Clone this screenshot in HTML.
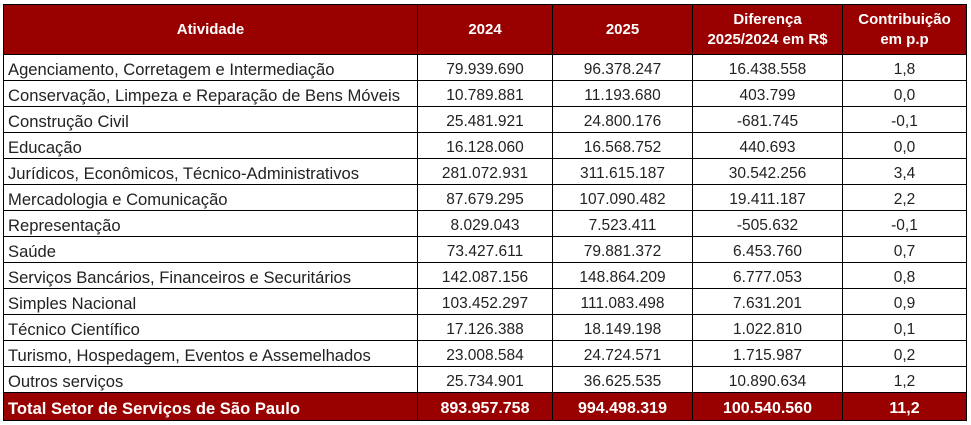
<!DOCTYPE html>
<html><head><meta charset="utf-8"><style>
html,body{margin:0;padding:0;background:#fff;width:971px;height:425px;overflow:hidden}
table{position:absolute;left:3px;top:4px;border-collapse:collapse;font-family:"Liberation Sans",sans-serif;table-layout:fixed}
td,th{border:1px solid #000;padding:0;font-size:15.5px;color:#222;text-align:center;height:25px;line-height:25px;white-space:nowrap;overflow:hidden}
td span{position:relative;top:2px}
td.l{text-align:left;padding-left:4px;font-size:16.6px}
th{background:#990000;color:#fff;font-weight:bold;font-size:15px;line-height:20px;height:49px;vertical-align:middle}
tr.t td{background:#990000;color:#fff;font-weight:bold;height:27px;line-height:27px;font-size:16px}
tr.t td.l{font-size:16.6px}
</style></head><body>
<table>
<colgroup><col style="width:414px"><col style="width:135px"><col style="width:140px"><col style="width:150px"><col style="width:124px"></colgroup>
<tr><th>Atividade</th><th>2024</th><th>2025</th><th>Diferença<br>2025/2024 em R$</th><th>Contribuição<br>em p.p</th></tr>
<tr><td class="l"><span>Agenciamento, Corretagem e Intermediação</span></td><td><span>79.939.690</span></td><td><span>96.378.247</span></td><td><span>16.438.558</span></td><td><span>1,8</span></td></tr>
<tr><td class="l"><span>Conservação, Limpeza e Reparação de Bens Móveis</span></td><td><span>10.789.881</span></td><td><span>11.193.680</span></td><td><span>403.799</span></td><td><span>0,0</span></td></tr>
<tr><td class="l"><span>Construção Civil</span></td><td><span>25.481.921</span></td><td><span>24.800.176</span></td><td><span>-681.745</span></td><td><span>-0,1</span></td></tr>
<tr><td class="l"><span>Educação</span></td><td><span>16.128.060</span></td><td><span>16.568.752</span></td><td><span>440.693</span></td><td><span>0,0</span></td></tr>
<tr><td class="l"><span>Jurídicos, Econômicos, Técnico-Administrativos</span></td><td><span>281.072.931</span></td><td><span>311.615.187</span></td><td><span>30.542.256</span></td><td><span>3,4</span></td></tr>
<tr><td class="l"><span>Mercadologia  e Comunicação</span></td><td><span>87.679.295</span></td><td><span>107.090.482</span></td><td><span>19.411.187</span></td><td><span>2,2</span></td></tr>
<tr><td class="l"><span>Representação</span></td><td><span>8.029.043</span></td><td><span>7.523.411</span></td><td><span>-505.632</span></td><td><span>-0,1</span></td></tr>
<tr><td class="l"><span>Saúde</span></td><td><span>73.427.611</span></td><td><span>79.881.372</span></td><td><span>6.453.760</span></td><td><span>0,7</span></td></tr>
<tr><td class="l"><span>Serviços Bancários, Financeiros e Securitários</span></td><td><span>142.087.156</span></td><td><span>148.864.209</span></td><td><span>6.777.053</span></td><td><span>0,8</span></td></tr>
<tr><td class="l"><span>Simples Nacional</span></td><td><span>103.452.297</span></td><td><span>111.083.498</span></td><td><span>7.631.201</span></td><td><span>0,9</span></td></tr>
<tr><td class="l"><span>Técnico Científico</span></td><td><span>17.126.388</span></td><td><span>18.149.198</span></td><td><span>1.022.810</span></td><td><span>0,1</span></td></tr>
<tr><td class="l"><span>Turismo, Hospedagem, Eventos e Assemelhados</span></td><td><span>23.008.584</span></td><td><span>24.724.571</span></td><td><span>1.715.987</span></td><td><span>0,2</span></td></tr>
<tr><td class="l"><span>Outros serviços</span></td><td><span>25.734.901</span></td><td><span>36.625.535</span></td><td><span>10.890.634</span></td><td><span>1,2</span></td></tr>
<tr class="t"><td class="l"><span>Total Setor de Serviços de São Paulo</span></td><td><span>893.957.758</span></td><td><span>994.498.319</span></td><td><span>100.540.560</span></td><td><span>11,2</span></td></tr>
</table>
</body></html>
